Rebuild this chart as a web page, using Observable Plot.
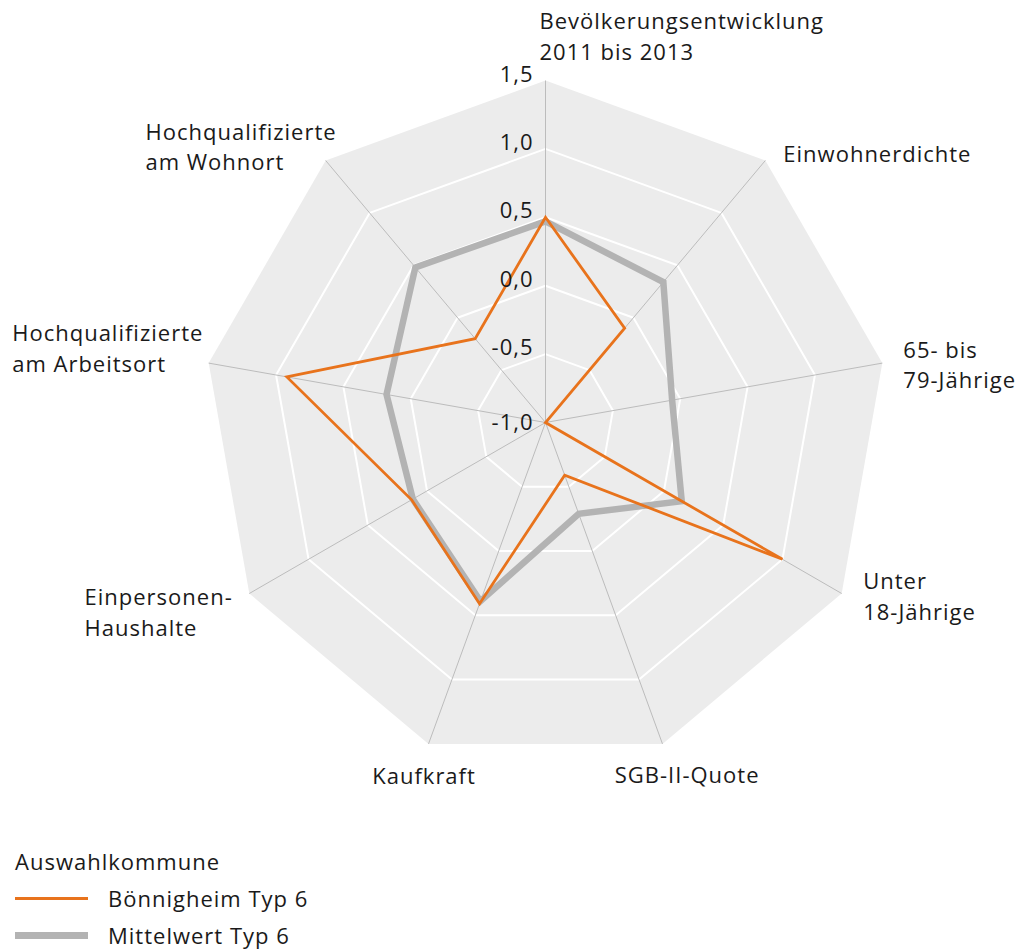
<!DOCTYPE html>
<html>
<head>
<meta charset="utf-8">
<script src="https://cdn.jsdelivr.net/npm/d3@7"></script>
<script src="https://cdn.jsdelivr.net/npm/@observablehq/plot@0.6"></script>
<style>
  body { margin: 0; background: #fff; font-family: "Open Sans", sans-serif; color: #1a1a1a; letter-spacing: 1px; }
  #chart svg { display: block; }
  #legend { padding: 12.6px 0 0 15px; font-size: 22px; line-height: 37px; }
  #legend .row { display: flex; align-items: center; height: 37px; }
  #legend .sw { width: 73px; margin-right: 20px; }
</style>
</head>
<body>
<div id="chart"></div>
<div id="legend"></div>
<script>
// ---- data ----
const axes = [
  "Bevölkerungsentwicklung\n2011 bis 2013",
  "Einwohnerdichte",
  "65- bis\n79-Jährige",
  "Unter\n18-Jährige",
  "SGB-II-Quote",
  "Kaufkraft",
  "Einpersonen-\nHaushalte",
  "Hochqualifizierte\nam Arbeitsort",
  "Hochqualifizierte\nam Wohnort"
];
const boennigheim = [0.50, -0.10, -1.00, 1.00, -0.59, 0.41, 0.13, 0.92, -0.20];
const mittelwert  = [0.47, 0.34, -0.06, 0.15, -0.29, 0.39, 0.12, 0.18, 0.48];
const seriesNames = ["Bönnigheim Typ 6", "Mittelwert Typ 6"];
const legendTitle = "Auswahlkommune";
const tickValues = [1.5, 1.0, 0.5, 0.0, -0.5, -1.0];
const tickLabels = ["1,5", "1,0", "0,5", "0,0", "-0,5", "-1,0"];
const ringValues = [-0.5, 0.0, 0.5, 1.0];

// ---- style ----
const seriesColors = ["#e8731c", "#b3b3b3"];
const seriesWidths = [2.8, 6.5];
const fontSize = 22;
const lineSpacing = 30.2;
const labelDx = [-6, 18, 21, 21.5, -47.7, -56.3, -164.8, -196.5, -180.2];
const labelDy = [-21, 1, 25, 26, 39, 40, 42, 8.4, 9.3];

// ---- polar mapping via azimuthal projection ----
const vMin = -1.0, vMax = 1.5;
const lon = (i) => 180 - (360 / axes.length) * i;
const lat = (v) => 90 - (v - vMin) / (vMax - vMin);

const seriesPts = (vals) => vals.map((v, i) => ({axis: i, lon: lon(i), lat: lat(v)}));
const ringPts = ringValues.flatMap((r) => axes.map((a, i) => ({ring: r, lon: lon(i), lat: lat(r)})));
const outerPts = axes.map((a, i) => ({lon: lon(i), lat: lat(vMax)}));
const axisData = axes.map((a, i) => ({label: a, i, lon: lon(i)}));
const tickData = tickValues.map((v, k) => ({v, label: tickLabels[k]}));

const W = 1021, H = 830;
const plot = Plot.plot({
  width: W,
  height: H,
  marginTop: 80,
  marginLeft: 203,
  marginRight: 134,
  marginBottom: 66,
  style: {fontFamily: "Open Sans", fontSize: fontSize + "px", letterSpacing: "1px", color: "#1a1a1a", background: "white", overflow: "visible"},
  projection: {
    type: "azimuthal-equidistant",
    rotate: [0, -90],
    clip: false,
    domain: d3.geoCircle().center([0, 90]).radius(90 - lat(vMax)).precision(0.5)()
  },
  marks: [
    Plot.line(outerPts, {x: "lon", y: "lat", curve: "linear-closed", fill: "#ececec", stroke: "none"}),
    Plot.line(ringPts, {x: "lon", y: "lat", z: "ring", curve: "linear-closed", stroke: "white", strokeWidth: 2}),
    Plot.link(axisData, {x1: "lon", y1: 90, x2: "lon", y2: lat(vMax), stroke: "#bcbcbc", strokeWidth: 1}),
    Plot.line(seriesPts(mittelwert), {x: "lon", y: "lat", curve: "linear-closed", stroke: seriesColors[1], strokeWidth: seriesWidths[1], strokeLinejoin: "miter", strokeMiterlimit: 4}),
    Plot.line(seriesPts(boennigheim), {x: "lon", y: "lat", curve: "linear-closed", stroke: seriesColors[0], strokeWidth: seriesWidths[0], strokeLinejoin: "miter", strokeMiterlimit: 4}),
    Plot.text(tickData, {filter: (d) => d.v > vMin, x: lon(0), y: (d) => lat(d.v), text: "label", textAnchor: "end", lineAnchor: "bottom", dx: -12, dy: 1, fontSize}),
    Plot.text(tickData, {filter: (d) => d.v === vMin, x: lon(0), y: (d) => lat(d.v), text: "label", textAnchor: "end", lineAnchor: "middle", dx: -12, fontSize}),
    ...axisData.map((d) =>
      Plot.text([d], {x: "lon", y: lat(vMax), text: "label", textAnchor: "start", lineAnchor: "bottom", lineHeight: lineSpacing / fontSize, dx: labelDx[d.i], dy: labelDy[d.i], fontSize})
    )
  ]
});
document.getElementById("chart").appendChild(plot);

// ---- legend ----
const legend = document.getElementById("legend");
const title = document.createElement("div");
title.textContent = legendTitle;
legend.appendChild(title);
seriesNames.forEach((name, k) => {
  const row = document.createElement("div");
  row.className = "row";
  const sw = document.createElement("span");
  sw.className = "sw";
  sw.style.height = (k === 0 ? 3 : 7) + "px";
  sw.style.background = seriesColors[k];
  const t = document.createElement("span");
  t.textContent = name;
  row.appendChild(sw);
  row.appendChild(t);
  legend.appendChild(row);
});
</script>
</body>
</html>
